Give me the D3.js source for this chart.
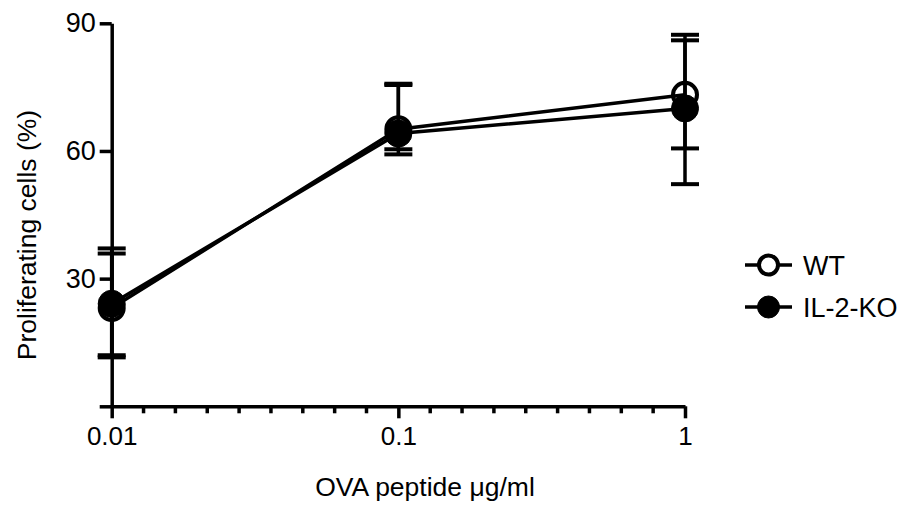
<!DOCTYPE html>
<html>
<head>
<meta charset="utf-8">
<script src="https://cdn.jsdelivr.net/npm/d3@7"></script>
<style>
  html, body { margin: 0; padding: 0; background: #fff; }
  svg { display: block; font-family: "Liberation Sans", Arial, sans-serif; }
</style>
</head>
<body>
<div id="chart"></div>
<script>
// ----- data
const doses = [0.01, 0.1, 1];
const seriesNames = ["WT", "IL-2-KO"];
const wtMean = [23.1, 65.1, 73.2];
const wtHigh = [35.9, 75.5, 86.0];
const wtLow  = [11.5, 60.4, 60.6];
const koMean = [24.1, 64.1, 70.0];
const koHigh = [37.1, 75.8, 87.3];
const koLow  = [12.0, 59.2, 52.2];
const yTicks = [0, 30, 60, 90];
const xTicks = [0.01, 0.1, 1];

const width = 903, height = 512;

const svg = d3.select("#chart").append("svg")
  .attr("width", width)
  .attr("height", height);

const x = d3.scaleLog().domain([0.01, 1]).range([111.7, 685]);
const y = d3.scaleLinear().domain([0, 90]).range([406.3, 23.3]);

// ----- axes
const yAxis = d3.axisLeft(y)
  .tickValues(yTicks)
  .tickSize(12)
  .tickSizeOuter(0)
  .tickPadding(4)
  .tickFormat(d => d === 0 ? "" : d);
svg.append("g")
  .attr("transform", `translate(${x(0.01)},0)`)
  .call(yAxis)
  .call(g => {
    g.selectAll("path, line").attr("stroke", "#000").attr("stroke-width", 3.5);
    g.selectAll("text").attr("font-size", 27).attr("fill", "#000");
  });

const xAxis = d3.axisBottom(x)
  .tickValues(xTicks)
  .tickSize(12)
  .tickSizeOuter(0)
  .tickPadding(8)
  .tickFormat(d => d);
svg.append("g")
  .attr("transform", `translate(0,${y(0)})`)
  .call(xAxis)
  .call(g => {
    g.selectAll("path, line").attr("stroke", "#000").attr("stroke-width", 3.5);
    g.selectAll("text").attr("font-size", 26).attr("fill", "#000");
  });

// minor ticks: evenly spaced between decades, as in the original
const minor = [];
for (let i = 0; i < xTicks.length - 1; i++) {
  const a = x(xTicks[i]), b = x(xTicks[i + 1]);
  for (let k = 1; k < 9; k++) minor.push(a + (b - a) * k / 9);
}
svg.append("g").selectAll("line")
  .data(minor)
  .join("line")
    .attr("x1", d => d).attr("x2", d => d)
    .attr("y1", y(0)).attr("y2", y(0) + 7)
    .attr("stroke", "#000").attr("stroke-width", 3.5);

// axis titles
svg.append("text")
  .attr("x", 425).attr("y", 496)
  .attr("text-anchor", "middle")
  .attr("font-size", 26.5)
  .text("OVA peptide \u03BCg/ml");

svg.append("text")
  .attr("transform", "translate(36,235) rotate(-90)")
  .attr("text-anchor", "middle")
  .attr("font-size", 26.5)
  .text("Proliferating cells (%)");

// ----- series
const series = [
  { name: seriesNames[0], mean: wtMean, high: wtHigh, low: wtLow, filled: false },
  { name: seriesNames[1], mean: koMean, high: koHigh, low: koLow, filled: true }
];

const line = d3.line()
  .x((d, i) => x(doses[i]))
  .y(d => y(d));

const plot = svg.append("g");

series.forEach(s => {
  plot.append("path")
    .datum(s.mean)
    .attr("d", line)
    .attr("fill", "none")
    .attr("stroke", "#000")
    .attr("stroke-width", 3.5);
});

const capW = 14;
series.forEach(s => {
  const eb = plot.append("g").attr("stroke", "#000");
  doses.forEach((dose, i) => {
    const cx = x(dose);
    eb.append("line")
      .attr("x1", cx).attr("x2", cx)
      .attr("y1", y(s.low[i])).attr("y2", y(s.high[i]))
      .attr("stroke-width", 3.5);
    [s.low[i], s.high[i]].forEach(v => {
      eb.append("line")
        .attr("x1", cx - capW).attr("x2", cx + capW)
        .attr("y1", y(v)).attr("y2", y(v))
        .attr("stroke-width", 4);
    });
  });
});

series.forEach(s => {
  plot.append("g").selectAll("circle")
    .data(s.mean)
    .join("circle")
      .attr("cx", (d, i) => x(doses[i]))
      .attr("cy", d => y(d))
      .attr("r", s.filled ? 13.5 : 12)
      .attr("fill", s.filled ? "#000" : "none")
      .attr("stroke", "#000")
      .attr("stroke-width", s.filled ? 1 : 4);
});

// ----- legend
const legend = svg.append("g");
series.forEach((s, i) => {
  const ly = 265 + i * 42;
  const g = legend.append("g").attr("transform", `translate(0,${ly})`);
  g.append("line")
    .attr("x1", 745).attr("x2", 792)
    .attr("stroke", "#000").attr("stroke-width", 3.5);
  g.append("circle")
    .attr("cx", 768.5).attr("r", s.filled ? 11 : 9.5)
    .attr("fill", s.filled ? "#000" : "#fff")
    .attr("stroke", "#000")
    .attr("stroke-width", s.filled ? 1 : 4);
  g.append("text")
    .attr("x", 803).attr("dy", "0.36em")
    .attr("font-size", 27)
    .text(s.name);
});
</script>
</body>
</html>
